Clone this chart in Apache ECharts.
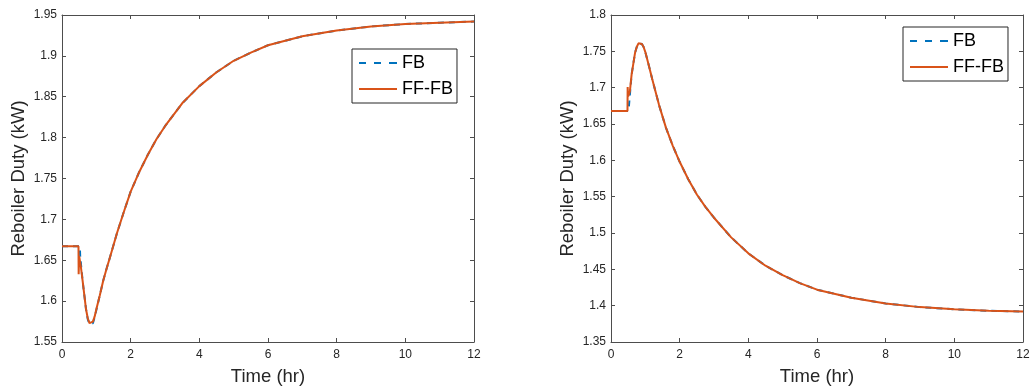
<!DOCTYPE html>
<html>
<head>
<meta charset="utf-8">
<script src="https://cdn.jsdelivr.net/npm/echarts@6/dist/echarts.min.js"></script>
<style>
html,body{margin:0;padding:0;background:#fff;}
#chart{width:1034px;height:388px;}
</style>
</head>
<body>
<div id="chart"></div>
<script>
// ---- data ----
const seriesNames = ['FB', 'FF-FB'];
const xTickLabels = ['0', '2', '4', '6', '8', '10', '12'];

// Left panel
const leftTimeFB = [0, 0.52, 0.53, 0.6, 0.7, 0.75, 0.8, 0.85, 0.9, 0.95, 1.0, 1.1, 1.2, 1.3, 1.4, 1.6, 1.8, 2.0, 2.25, 2.5, 2.75, 3, 3.5, 4, 4.5, 5, 5.5, 6, 7, 8, 9, 10, 11, 12];
const leftFB = [1.667, 1.667, 1.655, 1.625, 1.590, 1.578, 1.572, 1.570, 1.573, 1.580, 1.589, 1.607, 1.625, 1.640, 1.654, 1.683, 1.709, 1.734, 1.758, 1.779, 1.798, 1.814, 1.842, 1.863, 1.880, 1.894, 1.904, 1.913, 1.924, 1.931, 1.936, 1.939, 1.9405, 1.942];
const leftTimeFFFB = [0, 0.48, 0.485, 0.5, 0.55, 0.6, 0.7, 0.75, 0.8, 0.85, 0.9, 0.95, 1.0, 1.1, 1.2, 1.3, 1.4, 1.6, 1.8, 2.0, 2.25, 2.5, 2.75, 3, 3.5, 4, 4.5, 5, 5.5, 6, 7, 8, 9, 10, 11, 12];
const leftFFFB = [1.667, 1.667, 1.633, 1.655, 1.642, 1.625, 1.590, 1.579, 1.573, 1.572, 1.575, 1.581, 1.590, 1.607, 1.625, 1.640, 1.654, 1.683, 1.709, 1.734, 1.758, 1.779, 1.798, 1.814, 1.842, 1.863, 1.880, 1.894, 1.904, 1.913, 1.924, 1.931, 1.936, 1.939, 1.9405, 1.942];

// Right panel
const rightTimeFB = [0, 0.51, 0.55, 0.6, 0.7, 0.75, 0.8, 0.85, 0.9, 0.95, 1.0, 1.1, 1.2, 1.4, 1.6, 1.8, 2.0, 2.25, 2.5, 2.75, 3, 3.5, 4, 4.5, 5, 5.5, 6, 7, 8, 9, 10, 11, 12];
const rightFB = [1.668, 1.668, 1.690, 1.718, 1.748, 1.756, 1.761, 1.762, 1.760, 1.756, 1.749, 1.731, 1.712, 1.676, 1.645, 1.620, 1.598, 1.574, 1.553, 1.536, 1.521, 1.494, 1.472, 1.455, 1.442, 1.431, 1.422, 1.411, 1.403, 1.398, 1.395, 1.393, 1.392];
const rightTimeFFFB = [0, 0.48, 0.485, 0.5, 0.55, 0.6, 0.7, 0.75, 0.8, 0.85, 0.9, 0.95, 1.0, 1.1, 1.2, 1.4, 1.6, 1.8, 2.0, 2.25, 2.5, 2.75, 3, 3.5, 4, 4.5, 5, 5.5, 6, 7, 8, 9, 10, 11, 12];
const rightFFFB = [1.668, 1.668, 1.701, 1.688, 1.695, 1.718, 1.748, 1.756, 1.761, 1.762, 1.760, 1.756, 1.749, 1.731, 1.712, 1.676, 1.645, 1.620, 1.598, 1.574, 1.553, 1.536, 1.521, 1.494, 1.472, 1.455, 1.442, 1.431, 1.422, 1.411, 1.403, 1.398, 1.395, 1.393, 1.392];

const leftYRange = [1.55, 1.95];
const rightYRange = [1.35, 1.8];
const yInterval = 0.05;
const xRange = [0, 12];
const xInterval = 2;
const xName = 'Time (hr)';
const yName = 'Reboiler Duty (kW)';

// ---- chart ----
const FONT = '"Liberation Sans", Arial, Helvetica, sans-serif';
const AX = '#4d4d4d';
const TXT = '#262626';
const BLUE = '#0072BD';
const ORANGE = '#D95319';
const ICON_DASH = 'path://M0,0h7v2h-7zM15,0h7v2h-7zM30,0h8v2h-8z';
const ICON_SOLID = 'path://M0,0h38v2h-38z';

function pairs(t, v) { return t.map((x, i) => [x, v[i]]); }
function fmtY(v) { return String(parseFloat(v.toFixed(2))); }

function xAxes(gi) {
  const base = {
    type: 'value', gridIndex: gi, min: xRange[0], max: xRange[1], interval: xInterval,
    axisLine: { show: true, onZero: false, lineStyle: { color: AX, width: 1 } },
    axisTick: { show: true, inside: true, length: 4, lineStyle: { color: AX } },
    splitLine: { show: false }
  };
  return [
    Object.assign({}, base, {
      position: 'bottom',
      name: xName, nameLocation: 'middle', nameGap: 25,
      nameTextStyle: { fontFamily: FONT, fontSize: 18.5, color: TXT },
      axisLabel: { fontFamily: FONT, fontSize: 12, color: TXT, margin: 7,
        formatter: v => xTickLabels[Math.round((v - xRange[0]) / xInterval)] }
    }),
    Object.assign({}, base, { position: 'top', axisLabel: { show: false } })
  ];
}

function yAxes(gi, range) {
  const base = {
    type: 'value', gridIndex: gi, min: range[0], max: range[1], interval: yInterval,
    axisLine: { show: true, onZero: false, lineStyle: { color: AX, width: 1 } },
    axisTick: { show: true, inside: true, length: 4, lineStyle: { color: AX } },
    splitLine: { show: false }
  };
  return [
    Object.assign({}, base, {
      position: 'left',
      name: yName, nameLocation: 'middle', nameGap: 34, nameRotate: 90,
      nameTextStyle: { fontFamily: FONT, fontSize: 18.5, color: TXT },
      axisLabel: { fontFamily: FONT, fontSize: 12, color: TXT, margin: 5, formatter: fmtY }
    }),
    Object.assign({}, base, { position: 'right', axisLabel: { show: false } })
  ];
}

function mkSeries(name, data, xi, yi, color, dashed) {
  return {
    name: name, type: 'line', xAxisIndex: xi, yAxisIndex: yi,
    data: data, showSymbol: false, symbol: 'none', animation: false,
    lineStyle: { color: color, width: 2, type: dashed ? [6, 5] : 'solid' },
    itemStyle: { color: color }, z: dashed ? 2 : 3
  };
}

function legend(left, top) {
  return {
    data: [
      { name: seriesNames[0], icon: ICON_DASH, itemStyle: { color: BLUE } },
      { name: seriesNames[1], icon: ICON_SOLID, itemStyle: { color: ORANGE } }
    ],
    orient: 'vertical', left: left, top: top,
    itemWidth: 38, itemHeight: 2, itemGap: 4,
    padding: [3, 4, 3, 7],
    borderColor: '#262626', borderWidth: 1, backgroundColor: '#fff',
    textStyle: { fontFamily: FONT, fontSize: 18, color: '#000', lineHeight: 22 },
    selectedMode: false
  };
}

const chart = echarts.init(document.getElementById('chart'), null, { renderer: 'canvas' });
chart.setOption({
  backgroundColor: '#fff',
  animation: false,
  grid: [
    { left: 62, right: 560, top: 15, bottom: 46, containLabel: false, outerBoundsMode: 'none' },
    { left: 611, right: 11, top: 15, bottom: 46, containLabel: false, outerBoundsMode: 'none' }
  ],
  xAxis: xAxes(0).concat(xAxes(1)),
  yAxis: yAxes(0, leftYRange).concat(yAxes(1, rightYRange)),
  legend: [legend(352, 49), legend(903, 27)],
  series: [
    mkSeries(seriesNames[0], pairs(leftTimeFB, leftFB), 0, 0, BLUE, true),
    mkSeries(seriesNames[1], pairs(leftTimeFFFB, leftFFFB), 0, 0, ORANGE, false),
    mkSeries(seriesNames[0], pairs(rightTimeFB, rightFB), 2, 2, BLUE, true),
    mkSeries(seriesNames[1], pairs(rightTimeFFFB, rightFFFB), 2, 2, ORANGE, false)
  ]
});
</script>
</body>
</html>
